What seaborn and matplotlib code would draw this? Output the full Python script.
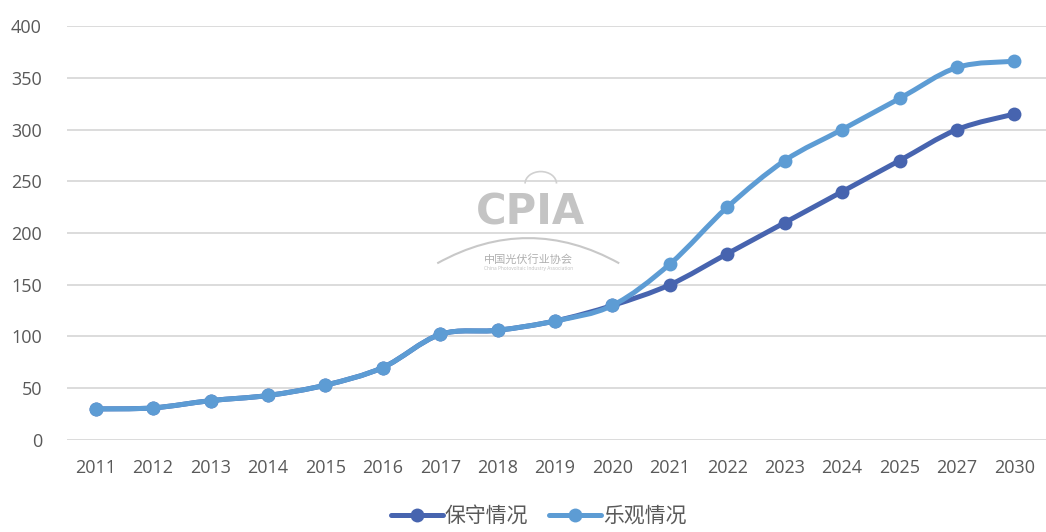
import numpy as np
import pandas as pd
import matplotlib
matplotlib.use("Agg")
import matplotlib.pyplot as plt
import seaborn as sns
from matplotlib.path import Path
from matplotlib.patches import PathPatch
from matplotlib.lines import Line2D

# ---- data ----
years = ["2011", "2012", "2013", "2014", "2015", "2016", "2017", "2018", "2019",
         "2020", "2021", "2022", "2023", "2024", "2025", "2027", "2030"]
conservative = [30, 31, 38, 43, 53, 70, 102, 106, 115, 130, 150, 180, 210, 240, 270, 300, 315]
optimistic = [30, 31, 38, 43, 53, 70, 102, 106, 115, 130, 170, 225, 270, 300, 330, 360, 366]
series_names = ["保守情况", "乐观情况"]
yticks = [0, 50, 100, 150, 200, 250, 300, 350, 400]

colors = ["#4764AF", "#5D9CD4"]

sns.set_theme(style="white")
plt.rcParams["font.family"] = ["Open Sans", "Noto Sans CJK SC", "DejaVu Sans"]

fig = plt.figure(figsize=(10.46, 5.32), dpi=100)
ax = fig.add_axes([0.064, 0.173, 0.936, 0.778])

xpos = np.arange(len(years))


def smooth_path(x, y):
    pts = np.column_stack([x, y]).astype(float)
    n = len(pts)
    verts = [pts[0]]
    codes = [Path.MOVETO]
    for i in range(n - 1):
        p0 = pts[i - 1] if i > 0 else pts[i]
        p1 = pts[i]
        p2 = pts[i + 1]
        p3 = pts[i + 2] if i + 2 < n else pts[i + 1]
        c1 = p1 + (p2 - p0) / 6.0
        c2 = p2 - (p3 - p1) / 6.0
        verts += [c1, c2, p2]
        codes += [Path.CURVE4] * 3
    return Path(verts, codes)


for k, (vals, col) in enumerate([(conservative, colors[0]), (optimistic, colors[1])]):
    base_z = 3 + 2 * k
    patch = PathPatch(smooth_path(xpos, vals), facecolor="none", edgecolor=col,
                      lw=3.6, capstyle="round", joinstyle="round", zorder=base_z)
    ax.add_patch(patch)
    sns.lineplot(x=xpos, y=vals, ax=ax, color=col, lw=0, marker="o",
                 markersize=10, markeredgewidth=0, zorder=base_z + 1,
                 legend=False)

ax.set_xlim(-0.5, 16.55)
ax.set_ylim(0, 400)
ax.set_yticks(yticks)
ax.set_xticks(xpos)
ax.set_xticklabels(years)
ax.set_xlabel("")
ax.set_ylabel("")
ax.yaxis.grid(True, color="#D9D9D9", lw=1.3)
ax.xaxis.grid(False)
ax.set_axisbelow(True)
for s in ax.spines.values():
    s.set_visible(False)
ax.tick_params(axis="both", length=0, labelsize=13, colors="#595959")
ax.tick_params(axis="y", pad=18)
ax.tick_params(axis="x", pad=14)

# legend
handles = [Line2D([0], [0], color=c, lw=3.6, marker="o", markersize=10,
                  markeredgewidth=0) for c in colors]
fig.legend(handles, series_names, loc="center", bbox_to_anchor=(0.515, 0.03),
           ncol=2, frameon=False, handlelength=2.5,
           handletextpad=0.1, columnspacing=1.0, labelcolor="#595959",
           borderpad=0.1,
           prop={"family": ["Noto Sans CJK SC", "DejaVu Sans"], "size": 15})

# watermark
wm = "#C4C4C4"
fig.text(0.507, 0.60, "CPIA", ha="center", va="center", fontsize=30,
         fontweight="bold", color=wm, family="DejaVu Sans Condensed", zorder=1)
fig.text(0.505, 0.513, "中国光伏行业协会", ha="center", va="center", fontsize=8,
         color="#B0B0B0", family=["Noto Sans CJK SC"], zorder=1)
fig.text(0.505, 0.495, "China Photovoltaic Industry Association", ha="center",
         va="center", fontsize=3.5, color="#C0C0C0", zorder=1)
arc = Path([(0.418, 0.505), (0.505, 0.60), (0.592, 0.505)],
           [Path.MOVETO, Path.CURVE3, Path.CURVE3])
fig.add_artist(PathPatch(arc, facecolor="none", edgecolor="#C8C8C8", lw=1.5,
                         transform=fig.transFigure, zorder=1))
sun = matplotlib.patches.Arc((0.517, 0.655), 0.03, 0.045, theta1=0, theta2=180,
                             transform=fig.transFigure, color="#D0D0D0", lw=1.2)
fig.add_artist(sun)

fig.savefig("out.png", dpi=100)
